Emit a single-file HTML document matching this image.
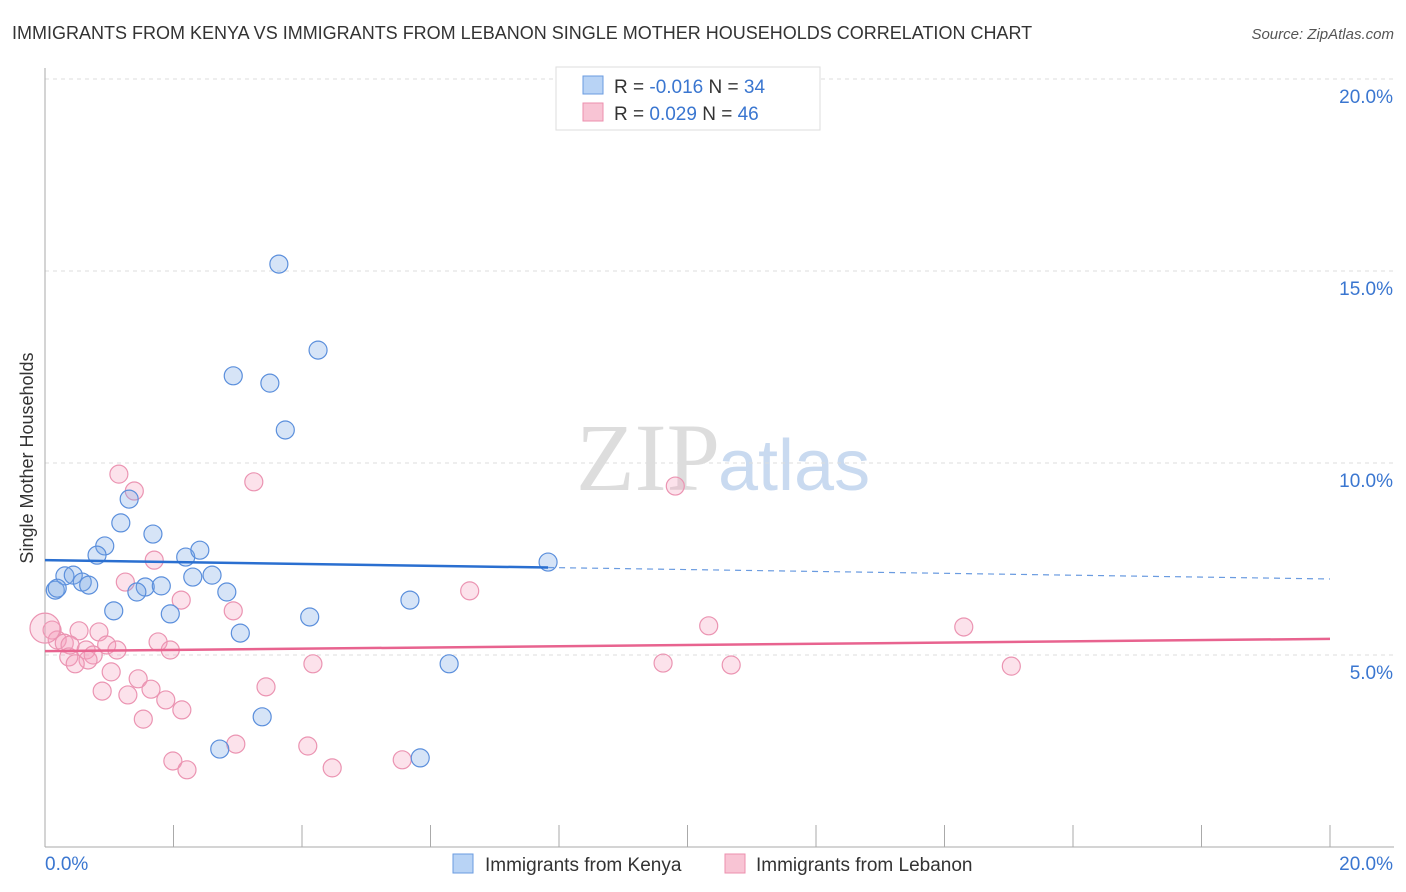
<!DOCTYPE html>
<html><head><meta charset="utf-8"><style>
body{margin:0;background:#fff;font-family:"Liberation Sans",sans-serif;}
svg{display:block}
</style></head><body>
<svg id="c" width="1406" height="892">
<text x="12" y="39" font-size="18" fill="#333">IMMIGRANTS FROM KENYA VS IMMIGRANTS FROM LEBANON SINGLE MOTHER HOUSEHOLDS CORRELATION CHART</text>
<text x="1394" y="39" font-size="15" fill="#555" font-style="italic" text-anchor="end">Source: ZipAtlas.com</text>
<text x="33" y="458" font-size="18" fill="#333" transform="rotate(-90 33 458)" text-anchor="middle">Single Mother Households</text>
<text x="720" y="490" font-size="96" fill="#ddd" text-anchor="end" font-family="Liberation Serif,serif">ZIP</text>
<text x="718" y="490" font-size="72" fill="#c9daf0">atlas</text>
<g id="grid"></g><g id="axes"></g><g id="pts"></g><g id="trend"></g>
<g>
<rect x="556" y="67" width="264" height="63" fill="#fff" stroke="#ddd"/>
<rect x="583" y="76" width="20" height="18" fill="#b8d3f5" stroke="#6a9be0"/>
<rect x="583" y="103" width="20" height="18" fill="#f8c4d4" stroke="#ec8fae"/>
<text x="614" y="93" font-size="19" fill="#333">R = <tspan fill="#3a76d0">-0.016</tspan>   N = <tspan fill="#3a76d0">34</tspan></text>
<text x="614" y="120" font-size="19" fill="#333">R =  <tspan fill="#3a76d0">0.029</tspan>   N = <tspan fill="#3a76d0">46</tspan></text>
</g>
<g>
<rect x="453" y="854" width="20" height="19" fill="#b8d3f5" stroke="#6a9be0"/>
<text x="485" y="871" font-size="19" fill="#333">Immigrants from Kenya</text>
<rect x="725" y="854" width="20" height="19" fill="#f8c4d4" stroke="#ec8fae"/>
<text x="756" y="871" font-size="19" fill="#333">Immigrants from Lebanon</text>
</g>
</svg>
<script>
const kenyaX=[3.64,4.25,2.93,3.50,3.74,1.31,1.18,1.68,0.93,0.81,2.19,2.41,7.83,0.31,0.44,0.58,0.68,0.16,0.19,1.56,1.81,1.43,2.30,2.60,2.83,1.07,1.95,5.68,4.12,3.04,6.29,3.38,2.72,5.84];
const kenyaY=[15.18,12.94,12.27,12.08,10.86,9.06,8.44,8.15,7.84,7.60,7.55,7.73,7.42,7.06,7.08,6.90,6.82,6.69,6.74,6.77,6.80,6.64,7.03,7.08,6.64,6.15,6.07,6.43,5.99,5.57,4.77,3.39,2.55,2.32];
const lebX=[1.15,1.39,3.25,9.81,1.70,1.25,6.61,2.12,2.93,10.33,14.30,0.11,0.53,0.84,0.19,0.30,0.39,0.96,1.76,1.12,0.64,1.95,0.75,0.37,0.67,0.47,4.17,9.62,10.68,15.04,1.03,1.45,1.65,0.89,1.29,1.88,3.44,2.13,1.53,2.97,4.09,1.99,2.21,4.47,5.56,0.0];
const lebY=[9.71,9.27,9.51,9.40,7.47,6.90,6.67,6.43,6.15,5.76,5.73,5.65,5.63,5.60,5.39,5.31,5.26,5.26,5.34,5.13,5.13,5.13,5.00,4.95,4.87,4.77,4.77,4.79,4.74,4.71,4.56,4.38,4.11,4.06,3.96,3.83,4.17,3.57,3.33,2.68,2.63,2.24,2.01,2.06,2.27,5.70];
const kenyaTrend=[7.47,6.98];
const lebTrend=[5.10,5.42];
const yTicks=[5,10,15,20];
const yTickLabels=["5.0%","10.0%","15.0%","20.0%"];
const xTickVals=[2,4,6,8,10,12,14,16,18,20];
const NS="http://www.w3.org/2000/svg";
const sx=v=>45+v*64.25, sy=v=>847-v*38.4;
function mk(tag,attrs,parent){const e=document.createElementNS(NS,tag);for(const k in attrs)e.setAttribute(k,attrs[k]);parent.appendChild(e);return e;}
const grid=document.getElementById('grid'),axes=document.getElementById('axes'),pts=document.getElementById('pts'),trend=document.getElementById('trend');
yTicks.forEach((t,i)=>{
 const l=mk('line',{x1:45,x2:1394,y1:sy(t),y2:sy(t),stroke:'#ddd','stroke-dasharray':'4,4'},grid);
 
 
 const tx=mk('text',{x:1393,y:sy(t)+24,'font-size':19,fill:'#3a76d0','text-anchor':'end'},axes);
 tx.textContent=yTickLabels[i];
 
 
});
mk('line',{x1:45,x2:45,y1:68,y2:847,stroke:'#aaa'},axes);
mk('line',{x1:45,x2:1394,y1:847,y2:847,stroke:'#aaa'},axes);
xTickVals.forEach(t=>{
 const l=mk('line',{x1:sx(t),x2:sx(t),y1:825,y2:847,stroke:'#aaa'},axes);
 
 
});
const x0=mk('text',{x:45,y:870,'font-size':19,fill:'#3a76d0'},axes);x0.textContent='0.0%';


const x1=mk('text',{x:1393,y:870,'font-size':19,fill:'#3a76d0','text-anchor':'end'},axes);x1.textContent='20.0%';


lebX.forEach((x,i)=>{
 const c=mk('circle',{cx:sx(x),cy:sy(lebY[i]),r:i===lebX.length-1?15:9,fill:'rgba(244,160,188,0.3)',stroke:'#eb94b2','stroke-width':1.2},pts);
 
 
});
kenyaX.forEach((x,i)=>{
 const c=mk('circle',{cx:sx(x),cy:sy(kenyaY[i]),r:9,fill:'rgba(120,165,230,0.3)',stroke:'#5b8fdc','stroke-width':1.2},pts);
 
 
});
const kAt=x=>kenyaTrend[0]+(kenyaTrend[1]-kenyaTrend[0])*x/20;
const kmax=Math.max(...kenyaX);
const t1=mk('line',{x1:sx(0),y1:sy(kAt(0)),x2:sx(kmax),y2:sy(kAt(kmax)),stroke:'#2a6fd0','stroke-width':2.5},trend);


const t2=mk('line',{x1:sx(kmax),y1:sy(kAt(kmax)),x2:sx(20),y2:sy(kAt(20)),stroke:'#6a9be0','stroke-width':1.2,'stroke-dasharray':'6,5'},trend);


const t3=mk('line',{x1:sx(0),y1:sy(lebTrend[0]),x2:sx(20),y2:sy(lebTrend[1]),stroke:'#e8638f','stroke-width':2.5},trend);


</script>
</body></html>
